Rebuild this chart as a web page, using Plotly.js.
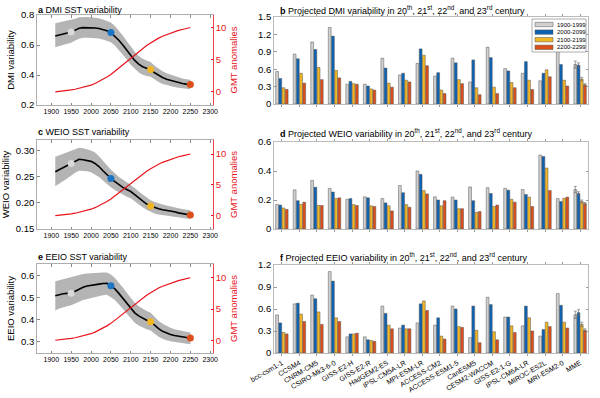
<!DOCTYPE html>
<html><head><meta charset="utf-8">
<script src="https://cdn.plot.ly/plotly-3.0.1.min.js"></script>
<style>html,body{margin:0;padding:0;background:#fff}#chart{width:600px;height:398px}</style>
</head><body><div id="chart"></div>
<script>
// ---------------- data ----------------
const years = [1910,1920,1930,1940,1950,1960,1970,1980,1990,2000,2010,2020,2030,2040,2050,2060,2070,2080,2090,2100,2110,2120,2130,2140,2150,2160,2170,2180,2190,2200,2210,2220,2230,2240,2250];
const gmt = [0.0,0.05,0.1,0.2,0.3,0.4,0.55,0.7,0.85,1.05,1.3,1.6,1.9,2.3,2.7,3.2,3.7,4.2,4.8,5.3,5.8,6.3,6.8,7.2,7.6,8.0,8.35,8.65,8.9,9.15,9.35,9.55,9.7,9.85,10.0];

const dmiMean = [0.660,0.668,0.675,0.680,0.686,0.700,0.712,0.716,0.716,0.715,0.713,0.710,0.703,0.695,0.683,0.660,0.632,0.600,0.565,0.528,0.497,0.472,0.455,0.445,0.437,0.415,0.398,0.383,0.372,0.364,0.356,0.349,0.343,0.339,0.336];
const dmiUpper = [0.745,0.750,0.758,0.762,0.765,0.775,0.785,0.787,0.786,0.785,0.782,0.778,0.770,0.762,0.750,0.727,0.698,0.664,0.627,0.588,0.555,0.527,0.508,0.496,0.486,0.462,0.443,0.425,0.412,0.402,0.392,0.384,0.377,0.372,0.368];
const dmiLower = [0.585,0.595,0.602,0.608,0.615,0.630,0.642,0.648,0.648,0.648,0.646,0.643,0.637,0.630,0.618,0.596,0.568,0.537,0.504,0.469,0.440,0.417,0.402,0.394,0.388,0.368,0.353,0.340,0.332,0.326,0.320,0.315,0.310,0.307,0.305];

const weioMean = [0.260,0.264,0.268,0.272,0.276,0.281,0.284,0.283,0.282,0.280,0.276,0.270,0.262,0.254,0.247,0.241,0.235,0.230,0.226,0.222,0.216,0.210,0.204,0.198,0.194,0.191,0.189,0.187,0.186,0.185,0.183,0.181,0.180,0.178,0.177];
const weioUpper = [0.289,0.292,0.295,0.298,0.301,0.304,0.306,0.305,0.303,0.301,0.297,0.290,0.281,0.272,0.264,0.257,0.250,0.245,0.240,0.235,0.229,0.222,0.216,0.210,0.205,0.202,0.199,0.197,0.195,0.194,0.192,0.190,0.188,0.187,0.186];
const weioLower = [0.232,0.237,0.242,0.247,0.252,0.258,0.262,0.262,0.261,0.259,0.255,0.250,0.243,0.236,0.230,0.225,0.220,0.216,0.212,0.209,0.204,0.198,0.192,0.187,0.183,0.180,0.178,0.177,0.176,0.175,0.173,0.172,0.171,0.170,0.169];

const eeioMean = [0.509,0.515,0.518,0.520,0.521,0.530,0.540,0.548,0.553,0.557,0.560,0.562,0.565,0.566,0.554,0.540,0.520,0.498,0.475,0.452,0.432,0.418,0.407,0.398,0.392,0.375,0.360,0.348,0.340,0.334,0.329,0.325,0.322,0.320,0.318];
const eeioUpper = [0.575,0.580,0.585,0.590,0.594,0.600,0.605,0.608,0.610,0.612,0.613,0.614,0.615,0.614,0.605,0.590,0.570,0.547,0.523,0.500,0.478,0.462,0.450,0.440,0.432,0.413,0.396,0.382,0.372,0.364,0.358,0.353,0.349,0.346,0.343];
const eeioLower = [0.443,0.452,0.458,0.462,0.466,0.474,0.482,0.490,0.496,0.500,0.505,0.508,0.512,0.514,0.503,0.490,0.470,0.450,0.428,0.406,0.387,0.374,0.364,0.357,0.352,0.337,0.324,0.314,0.308,0.303,0.299,0.296,0.294,0.292,0.291];

const markYears = [1950,2050,2150,2250];

const models = ['bcc-csm1-1','CCSM4','CNRM-CM5','CSIRO-Mk3-6-0','GISS-E2-H','GISS-E2-R','HadGEM2-ES','IPSL-CM5A-LR','MPI-ESM-LR','ACCESS-CM2','ACCESS-ESM1-5','CanESM5','CESM2-WACCM','GISS-E2-1-G','IPSL-CM6A-LR','MIROC-ES2L','MRI-ESM2-0','MME'];
const periods = ['1900-1999','2000-2099','2100-2199','2200-2299'];

const dmi20 = [0.56,0.86,1.07,1.32,0.34,0.34,0.79,0.50,0.70,0.48,0.79,0.38,0.98,0.61,0.53,0.40,0.92,0.68];
const dmi21 = [0.44,0.78,0.94,1.17,0.39,0.31,0.62,0.53,0.95,0.54,0.71,0.76,0.80,0.57,0.73,0.53,0.68,0.67];
const dmi22 = [0.28,0.53,0.63,0.58,0.35,0.26,0.36,0.41,0.84,0.24,0.42,0.28,0.29,0.37,0.41,0.59,0.41,0.43];
const dmi23 = [0.25,0.36,0.42,0.45,0.34,0.24,0.29,0.38,0.66,0.18,0.35,0.16,0.18,0.28,0.25,0.47,0.31,0.33];
const dmiMmeErr = [0.06,0.04,0.03,0.02];

const weio20 = [0.170,0.270,0.335,0.280,0.205,0.222,0.210,0.300,0.400,0.222,0.220,0.290,0.285,0.280,0.272,0.510,0.210,0.272];
const weio21 = [0.165,0.195,0.288,0.255,0.210,0.215,0.180,0.250,0.377,0.200,0.200,0.195,0.245,0.268,0.238,0.500,0.190,0.245];
const weio22 = [0.145,0.170,0.162,0.210,0.168,0.160,0.160,0.168,0.265,0.160,0.140,0.115,0.155,0.205,0.220,0.420,0.212,0.190];
const weio23 = [0.135,0.185,0.162,0.215,0.162,0.155,0.125,0.150,0.242,0.195,0.140,0.120,0.165,0.185,0.155,0.265,0.220,0.175];
const weioMmeErr = [0.022,0.012,0.010,0.008];

const eeio20 = [0.52,0.67,0.79,1.11,0.22,0.22,0.64,0.34,0.41,0.38,0.64,0.21,0.76,0.49,0.37,0.23,0.81,0.52];
const eeio21 = [0.41,0.68,0.74,0.98,0.26,0.18,0.54,0.38,0.67,0.48,0.60,0.64,0.66,0.49,0.64,0.32,0.65,0.55];
const eeio22 = [0.28,0.53,0.56,0.48,0.26,0.17,0.38,0.33,0.71,0.23,0.36,0.31,0.29,0.37,0.48,0.42,0.42,0.39];
const eeio23 = [0.26,0.43,0.39,0.43,0.27,0.16,0.33,0.33,0.58,0.19,0.35,0.14,0.18,0.28,0.30,0.36,0.34,0.31];
const eeioMmeErr = [0.05,0.04,0.03,0.02];

const xTicksYears = [1900,1950,2000,2050,2100,2150,2200,2250,2300];

// ---------------- style ----------------
const FONT = 'Liberation Sans, Arial, Helvetica, sans-serif';
const periodColors = ['#d0d0d0','#0d63b3','#f2b624','#dc4f1b'];
const dotColors = ['#d9d9d9','#1b75c4','#f2b624','#dc4f1b'];
const RED = '#e8121b';
const W = 600, H = 398;
const px = v => v / W;
const py = v => 1 - v / H;

const traces = [];
const lefts = [
  {mean: dmiMean, up: dmiUpper, lo: dmiLower, xa: 'x', ya: 'y', ya2: 'y2'},
  {mean: weioMean, up: weioUpper, lo: weioLower, xa: 'x2', ya: 'y3', ya2: 'y4'},
  {mean: eeioMean, up: eeioUpper, lo: eeioLower, xa: 'x3', ya: 'y5', ya2: 'y6'}
];
lefts.forEach(p => {
  traces.push({x: years.concat(years.slice().reverse()), y: p.up.concat(p.lo.slice().reverse()),
    type: 'scatter', mode: 'lines', fill: 'toself', fillcolor: '#b4b4b4', line: {width: 0},
    xaxis: p.xa, yaxis: p.ya, hoverinfo: 'skip', showlegend: false});
  traces.push({x: years, y: p.mean, type: 'scatter', mode: 'lines', line: {color: '#000', width: 1.6},
    xaxis: p.xa, yaxis: p.ya, showlegend: false});
  traces.push({x: markYears, y: markYears.map(yr => p.mean[years.indexOf(yr)]), type: 'scatter', mode: 'markers',
    marker: {color: dotColors, size: 7, line: {width: 0}}, xaxis: p.xa, yaxis: p.ya, showlegend: false});
  traces.push({x: years, y: gmt, type: 'scatter', mode: 'lines', line: {color: RED, width: 1.2},
    xaxis: p.xa, yaxis: p.ya2, showlegend: false});
});

const bars = [
  {vals: [dmi20, dmi21, dmi22, dmi23], err: dmiMmeErr, xa: 'x4', ya: 'y7'},
  {vals: [weio20, weio21, weio22, weio23], err: weioMmeErr, xa: 'x5', ya: 'y8'},
  {vals: [eeio20, eeio21, eeio22, eeio23], err: eeioMmeErr, xa: 'x6', ya: 'y9'}
];
bars.forEach(b => {
  b.vals.forEach((v, k) => {
    const errArr = models.map((m, i) => i === models.length - 1 ? b.err[k] : NaN);
    traces.push({x: models, y: v, type: 'bar', name: periods[k], xaxis: b.xa, yaxis: b.ya,
      marker: {color: periodColors[k], line: {color: '#555', width: 0.5}},
      error_y: {type: 'data', array: errArr, visible: true, color: '#666', thickness: 0.6, width: 1.5},
      showlegend: false});
  });
});

// ---------------- layout ----------------
const layout = {
  width: W, height: H, margin: {l: 0, r: 0, t: 0, b: 0},
  paper_bgcolor: '#fff', plot_bgcolor: '#fff',
  font: {family: FONT, size: 9, color: '#000'},
  barmode: 'group', bargap: 0.27, bargroupgap: 0.12,
  showlegend: false,
  annotations: [], shapes: []
};

const leftDefs = [
  {xk: 'xaxis', yk: 'yaxis', y2k: 'yaxis2', xa: 'x', ya: 'y', top: 15, bot: 105, range: [0.2, 0.8], tv: [0.2,0.4,0.6,0.8], tt: ['0.2','0.4','0.6','0.8'], title: 'DMI variability', r2: [-2.05, 11.95]},
  {xk: 'xaxis2', yk: 'yaxis3', y2k: 'yaxis4', xa: 'x2', ya: 'y3', top: 140, bot: 229, range: [0.15, 0.321], tv: [0.15,0.2,0.25,0.3], tt: ['0.15','0.20','0.25','0.30'], title: 'WEIO variability', r2: [-2.16, 12.27]},
  {xk: 'xaxis3', yk: 'yaxis5', y2k: 'yaxis6', xa: 'x3', ya: 'y5', top: 264, bot: 353, range: [0.25, 0.653], tv: [0.3,0.4,0.5,0.6], tt: ['0.3','0.4','0.5','0.6'], title: 'EEIO variability', r2: [-2.04, 12.2]}
];
leftDefs.forEach(d => {
  layout[d.xk] = {domain: [px(37), px(213)], anchor: d.ya, range: [1864, 2307],
    tickvals: xTicksYears, ticktext: xTicksYears.map(String), tickfont: {size: 7, color: '#000', family: FONT},
    ticks: 'inside', ticklen: 2.5, tickcolor: '#888', showline: true, linecolor: '#9a9a9a', linewidth: 0.8,
    mirror: 'ticks', showgrid: false, zeroline: false};
  layout[d.yk] = {domain: [py(d.bot), py(d.top)], anchor: d.xa, range: d.range,
    tickvals: d.tv, ticktext: d.tt, tickfont: {size: 9.5, color: '#000', family: FONT},
    ticks: 'inside', ticklen: 2.5, tickcolor: '#888', showline: true, linecolor: '#9a9a9a', linewidth: 0.8,
    showgrid: false, zeroline: false, title: {text: d.title, font: {size: 9.5, color: '#000', family: FONT}, standoff: 4}};
  layout[d.y2k] = {domain: [py(d.bot), py(d.top)], anchor: d.xa, overlaying: d.ya, side: 'right', range: d.r2,
    tickvals: [0,5,10], ticktext: ['0','5','10'], tickfont: {size: 9.5, color: RED, family: FONT},
    ticks: 'inside', ticklen: 2.5, tickcolor: RED, showline: true, linecolor: RED, linewidth: 0.8,
    showgrid: false, zeroline: false, title: {text: 'GMT anomalies', font: {size: 9.5, color: RED, family: FONT}, standoff: 4}};
});

const barDefs = [
  {xk: 'xaxis4', yk: 'yaxis7', xa: 'x4', ya: 'y7', top: 17, bot: 104, range: [0, 1.5], tv: [0,0.3,0.6,0.9,1.2,1.5], tt: ['0','0.3','0.6','0.9','1.2','1.5'], labels: false},
  {xk: 'xaxis5', yk: 'yaxis8', xa: 'x5', ya: 'y8', top: 142, bot: 229, range: [0, 0.6], tv: [0,0.2,0.4,0.6], tt: ['0','0.2','0.4','0.6'], labels: false},
  {xk: 'xaxis6', yk: 'yaxis9', xa: 'x6', ya: 'y9', top: 265, bot: 353, range: [0, 1.2], tv: [0,0.3,0.6,0.9,1.2], tt: ['0','0.3','0.6','0.9','1.2'], labels: true}
];
barDefs.forEach(d => {
  layout[d.xk] = {domain: [px(274), px(588)], anchor: d.ya, type: 'category', categoryorder: 'array', categoryarray: models,
    range: [-0.45, 17.45], showticklabels: d.labels, tickangle: -30, tickfont: {size: 7, color: '#000', family: FONT},
    ticks: 'outside', ticklen: 2.5, tickcolor: '#999', showline: true, linecolor: '#aaa', linewidth: 0.8,
    mirror: 'ticks', showgrid: false, zeroline: false};
  layout[d.yk] = {domain: [py(d.bot), py(d.top)], anchor: d.xa, range: d.range,
    tickvals: d.tv, ticktext: d.tt, tickfont: {size: 9.5, color: '#000', family: FONT},
    ticks: 'inside', ticklen: 2.5, tickcolor: '#999', showline: true, linecolor: '#aaa', linewidth: 0.8,
    mirror: 'ticks', showgrid: false, zeroline: false};
});

// panel titles
const sup = '20<sup>th</sup>, 21<sup>st</sup>, 22<sup>nd</sup>, and 23<sup>rd</sup> century';
const titles = [
  {t: '<b>a</b> DMI SST variability', x: 36, y: 10},
  {t: '<b>c</b> WEIO SST variability', x: 36, y: 132},
  {t: '<b>e</b> EEIO SST variability', x: 36, y: 257},
  {t: '<b>b</b> Projected DMI variability in ' + sup, x: 278, y: 10},
  {t: '<b>d</b> Projected WEIO variability in ' + sup, x: 278, y: 133},
  {t: '<b>f</b> Projected EEIO variability in ' + sup, x: 278, y: 257}
];
titles.forEach(o => layout.annotations.push({text: o.t, xref: 'paper', yref: 'paper', x: px(o.x), y: py(o.y),
  xanchor: 'left', yanchor: 'middle', showarrow: false, font: {size: 9, color: '#000', family: FONT}}));

// legend (manual, compact, as in the reference)
layout.shapes.push({type: 'rect', xref: 'paper', yref: 'paper', x0: px(532), x1: px(586), y0: py(52), y1: py(19),
  line: {color: '#777', width: 0.6}, fillcolor: '#fff', layer: 'above'});
periods.forEach((p, k) => {
  const yc = 24.5 + k * 7.6;
  layout.shapes.push({type: 'rect', xref: 'paper', yref: 'paper', x0: px(535), x1: px(553), y0: py(yc + 2.2), y1: py(yc - 2.2),
    line: {color: '#555', width: 0.5}, fillcolor: periodColors[k], layer: 'above'});
  layout.annotations.push({text: p, xref: 'paper', yref: 'paper', x: px(555), y: py(yc), xanchor: 'left', yanchor: 'middle',
    showarrow: false, font: {size: 6, color: '#000', family: FONT}});
});

Plotly.newPlot('chart', traces, layout, {staticPlot: true, displayModeBar: false});
</script></body></html>
